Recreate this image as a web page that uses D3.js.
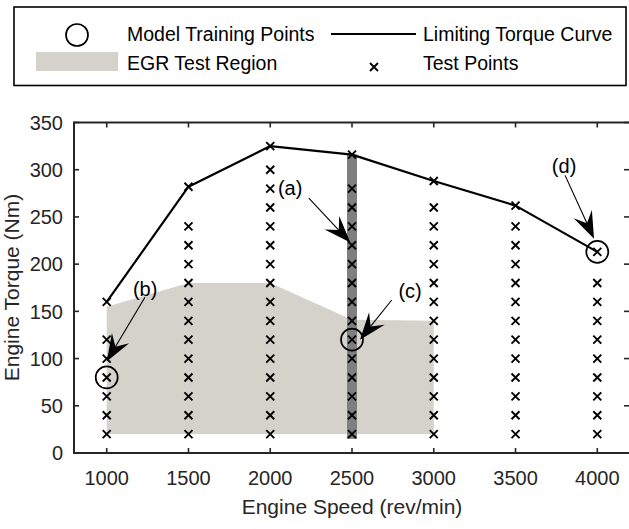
<!DOCTYPE html>
<html><head><meta charset="utf-8">
<script src="https://cdn.jsdelivr.net/npm/d3@7"></script>
<style>
body{margin:0;background:#fff}
text{font-family:"Liberation Sans",Arial,Helvetica,sans-serif}
</style>
</head><body>
<svg id="chart" width="629" height="529"></svg>
<script>
// ---------- data ----------
const speeds = [1000, 1500, 2000, 2500, 3000, 3500, 4000];
const limitingTorque = [160, 282, 325, 316, 288, 262, 213];
const testTorques1000 = [20, 40, 60, 80, 100, 120, 160];
const testTorques1500 = [20, 40, 60, 80, 100, 120, 140, 160, 180, 200, 220, 240, 282];
const testTorques2000 = [20, 40, 60, 80, 100, 120, 140, 160, 180, 200, 220, 240, 260, 280, 300, 325];
const testTorques2500 = [20, 40, 60, 80, 100, 120, 140, 160, 180, 200, 220, 240, 260, 280, 316];
const testTorques3000 = [20, 40, 60, 80, 100, 120, 140, 160, 180, 200, 220, 240, 260, 288];
const testTorques3500 = [20, 40, 60, 80, 100, 120, 140, 160, 180, 200, 220, 240, 262];
const testTorques4000 = [20, 40, 60, 80, 100, 120, 140, 160, 180, 213];
const testTorques = [testTorques1000, testTorques1500, testTorques2000, testTorques2500,
                     testTorques3000, testTorques3500, testTorques4000];
const trainingSpeeds = [1000, 2500, 4000];
const trainingTorques = [80, 120, 213];
const egrRegionSpeeds  = [1000, 1500, 2000, 2500, 3000, 3000, 1000];
const egrRegionTorques = [155, 180, 180, 141, 140, 20, 20];
const sweepSpeed = 2500;
const sweepTorqueRange = [15, 316];
const xTicks = [1000, 1500, 2000, 2500, 3000, 3500, 4000];
const yTicks = [0, 50, 100, 150, 200, 250, 300, 350];
const annLabels = ["(a)", "(b)", "(c)", "(d)"];
const annLabelPos = [[2122, 281], [1235, 174], [2855, 172], [3797, 304]];
const annStart    = [[2236, 270], [1234, 165], [2743, 162], [3803, 294]];
const annTip      = [[2490, 223], [1000, 97], [2549, 120], [3980, 227]];
const legendLabels = ["Model Training Points", "Limiting Torque Curve", "EGR Test Region", "Test Points"];

// ---------- setup ----------
const svg = d3.select("#chart");
const axisColor = "#262626";
const x = d3.scaleLinear().domain([800, 4200]).range([74, 630]);
const y = d3.scaleLinear().domain([0, 350]).range([453, 122.5]);

// EGR region
const regionPts = egrRegionSpeeds.map((s, i) => [x(s), y(egrRegionTorques[i])]);
svg.append("path").attr("d", d3.line()(regionPts) + "Z").attr("fill", "#d5d1cb");

// sweep band
svg.append("rect")
  .attr("x", x(sweepSpeed) - 5).attr("width", 10)
  .attr("y", y(sweepTorqueRange[1])).attr("height", y(sweepTorqueRange[0]) - y(sweepTorqueRange[1]))
  .attr("fill", "#7f7f7f");

// limiting curve
svg.append("path")
  .attr("d", d3.line().x((d, i) => x(speeds[i])).y(d => y(d))(limitingTorque))
  .attr("fill", "none").attr("stroke", "#000").attr("stroke-width", 2.2).attr("stroke-linejoin", "round");

// test points (x markers)
function cross(g, cx, cy, h) {
  g.append("path").attr("d", `M${cx-h},${cy-h}L${cx+h},${cy+h}M${cx-h},${cy+h}L${cx+h},${cy-h}`)
    .attr("stroke", "#000").attr("stroke-width", 1.9).attr("fill", "none");
}
const gPts = svg.append("g");
speeds.forEach((s, i) => testTorques[i].forEach(t => cross(gPts, x(s), y(t), 4)));

// training points circles
trainingSpeeds.forEach((s, i) => {
  svg.append("circle").attr("cx", x(s)).attr("cy", y(trainingTorques[i])).attr("r", 11)
    .attr("fill", "none").attr("stroke", "#000").attr("stroke-width", 1.7);
});

// annotations
function arrow(p0, p1) {
  const [x0, y0] = p0, [x1, y1] = p1;
  const dx = x1 - x0, dy = y1 - y0, L = Math.hypot(dx, dy);
  const ux = dx / L, uy = dy / L, px = -uy, py = ux;
  const len = 27, hw = 10, notch = 17;
  const nx = x1 - ux * notch, ny = y1 - uy * notch;
  svg.append("line").attr("x1", x0).attr("y1", y0).attr("x2", nx).attr("y2", ny)
    .attr("stroke", "#000").attr("stroke-width", 1.1);
  const pts = [[x1, y1], [x1 - ux * len + px * hw, y1 - uy * len + py * hw], [nx, ny],
               [x1 - ux * len - px * hw, y1 - uy * len - py * hw]];
  svg.append("path").attr("d", d3.line()(pts) + "Z").attr("fill", "#000");
}
annLabels.forEach((lab, i) => {
  svg.append("text").attr("x", x(annLabelPos[i][0])).attr("y", y(annLabelPos[i][1]))
    .attr("dy", "0.35em").attr("text-anchor", "middle").attr("font-size", 20).attr("fill", "#000").text(lab);
  arrow([x(annStart[i][0]), y(annStart[i][1])], [x(annTip[i][0]), y(annTip[i][1])]);
});

// axes box with inward ticks
const gAx = svg.append("g");
gAx.append("rect").attr("x", 74).attr("y", 122.5).attr("width", 556).attr("height", 330.5)
  .attr("fill", "none").attr("stroke", axisColor).attr("stroke-width", 2);
xTicks.forEach(t => {
  gAx.append("line").attr("x1", x(t)).attr("x2", x(t)).attr("y1", 453).attr("y2", 448).attr("stroke", axisColor).attr("stroke-width", 1.6);
  gAx.append("line").attr("x1", x(t)).attr("x2", x(t)).attr("y1", 122.5).attr("y2", 127.5).attr("stroke", axisColor).attr("stroke-width", 1.6);
  gAx.append("text").attr("x", x(t)).attr("y", 485).attr("text-anchor", "middle")
    .attr("font-size", 20).attr("fill", axisColor).text(t);
});
yTicks.forEach(t => {
  gAx.append("line").attr("x1", 74).attr("x2", 79).attr("y1", y(t)).attr("y2", y(t)).attr("stroke", axisColor).attr("stroke-width", 1.6);
  gAx.append("line").attr("x1", 629).attr("x2", 624).attr("y1", y(t)).attr("y2", y(t)).attr("stroke", axisColor).attr("stroke-width", 1.6);
  gAx.append("text").attr("x", 63).attr("y", y(t)).attr("dy", "0.36em").attr("text-anchor", "end")
    .attr("font-size", 20).attr("fill", axisColor).text(t);
});
svg.append("text").attr("x", 352).attr("y", 514).attr("text-anchor", "middle")
  .attr("font-size", 21).attr("fill", axisColor).text("Engine Speed (rev/min)");
svg.append("text").attr("transform", "translate(19,287.5) rotate(-90)").attr("text-anchor", "middle")
  .attr("font-size", 21).attr("fill", axisColor).text("Engine Torque (Nm)");

// legend
const lg = svg.append("g");
lg.append("rect").attr("x", 14).attr("y", 7).attr("width", 612).attr("height", 78.5)
  .attr("fill", "#fff").attr("stroke", "#000").attr("stroke-width", 1.6);
lg.append("circle").attr("cx", 77).attr("cy", 35).attr("r", 11).attr("fill", "none").attr("stroke", "#000").attr("stroke-width", 1.7);
lg.append("line").attr("x1", 331).attr("x2", 416).attr("y1", 34).attr("y2", 34).attr("stroke", "#000").attr("stroke-width", 2.2);
lg.append("rect").attr("x", 36).attr("y", 52).attr("width", 82).attr("height", 19).attr("fill", "#d5d1cb");
cross(lg, 374, 67, 4);
const legPos = [[127, 41], [423, 41], [127, 69.5], [423, 69.5]];
legendLabels.forEach((l, i) => lg.append("text").attr("x", legPos[i][0]).attr("y", legPos[i][1])
  .attr("font-size", 19.5).attr("fill", "#000").text(l));
</script>
</body></html>
